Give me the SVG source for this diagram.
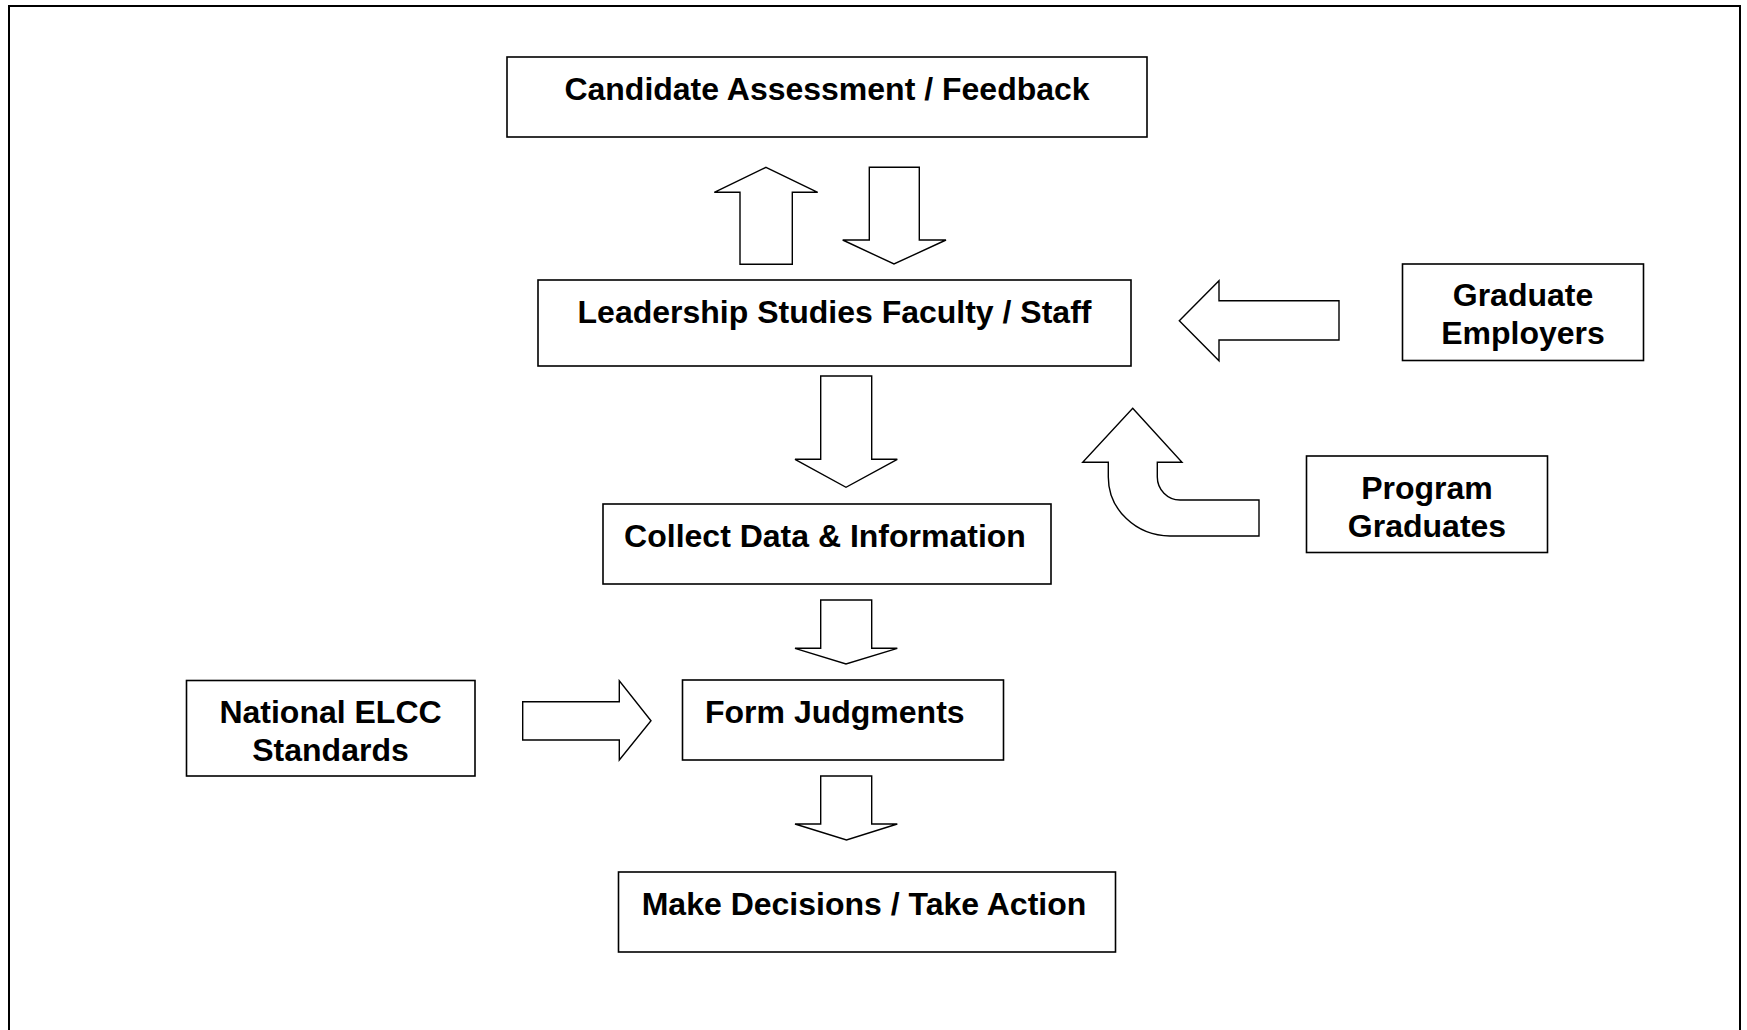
<svg xmlns="http://www.w3.org/2000/svg" width="1747" height="1030" viewBox="0 0 1747 1030">
<style>
  .box { fill: #fff; stroke: #000; stroke-width: 1.6; }
  .arr { fill: #fff; stroke: #000; stroke-width: 1.4; stroke-linejoin: miter; }
  .lbl { font-family: "Liberation Sans", Arial, sans-serif; font-weight: bold; font-size: 32px; fill: #000; }
  .c { text-anchor: middle; }
</style>
<rect x="0" y="0" width="1747" height="1030" fill="#fff"/>
<rect id="frame" x="9" y="6" width="1731" height="1100" fill="none" stroke="#000" stroke-width="2"/>

<g id="n-candidate">
  <rect class="box" x="507" y="57" width="640" height="80"/>
  <text class="lbl c" x="827" y="100">Candidate Assessment / Feedback</text>
</g>
<g id="n-leadership">
  <rect class="box" x="538" y="280" width="593" height="86"/>
  <text class="lbl c" x="834.5" y="323">Leadership Studies Faculty / Staff</text>
</g>
<g id="n-collect">
  <rect class="box" x="603" y="504" width="448" height="80"/>
  <text class="lbl c" x="825" y="547">Collect Data &amp; Information</text>
</g>
<g id="n-form">
  <rect class="box" x="682.5" y="680" width="321" height="80"/>
  <text class="lbl" x="705" y="723">Form Judgments</text>
</g>
<g id="n-make">
  <rect class="box" x="618.5" y="872" width="497" height="80"/>
  <text class="lbl c" x="864" y="915">Make Decisions / Take Action</text>
</g>
<g id="n-national">
  <rect class="box" x="186.5" y="680.5" width="288.5" height="95.5"/>
  <text class="lbl c" x="330.5" y="723">National ELCC</text>
  <text class="lbl c" x="330.5" y="761">Standards</text>
</g>
<g id="n-employers">
  <rect class="box" x="1402.5" y="264" width="241" height="96.5"/>
  <text class="lbl c" x="1523" y="306">Graduate</text>
  <text class="lbl c" x="1523" y="344">Employers</text>
</g>
<g id="n-graduates">
  <rect class="box" x="1306.5" y="456" width="241" height="96.5"/>
  <text class="lbl c" x="1427" y="498.5">Program</text>
  <text class="lbl c" x="1427" y="537">Graduates</text>
</g>

<g id="connectors">
  <polygon class="arr" points="766,167.3 817.7,192.3 792.3,192.3 792.3,264.3 740,264.3 740,192.3 714.3,192.3"/>
  <polygon class="arr" points="869.3,167.3 919.3,167.3 919.3,240 946,240 894,264 842.7,240 869.3,240"/>
  <polygon class="arr" points="820.7,376 871.7,376 871.7,459.3 897.3,459.3 846,487.3 795,459.3 820.7,459.3"/>
  <polygon class="arr" points="820.7,600 871.7,600 871.7,648.3 897.3,648.3 846,664 795,648.3 820.7,648.3"/>
  <polygon class="arr" points="820.7,776 871.7,776 871.7,824 897.3,824 846.5,840 795,824 820.7,824"/>
  <polygon class="arr" points="1179.3,320.7 1219,280.7 1219,300.7 1339,300.7 1339,340 1219,340 1219,360.7"/>
  <polygon class="arr" points="522.7,701.7 619.3,701.7 619.3,680.7 651,720.7 619.3,760 619.3,740 522.7,740"/>
  <path class="arr" d="M1132.7,408.3 L1182,462.3 L1157.3,462.3 L1157.3,477 A23,23 0 0 0 1180,500 L1259,500 L1259,536 L1170,536 A62,59 0 0 1 1108.3,477 L1108.3,462.3 L1082.7,462.3 Z"/>
</g>
</svg>
